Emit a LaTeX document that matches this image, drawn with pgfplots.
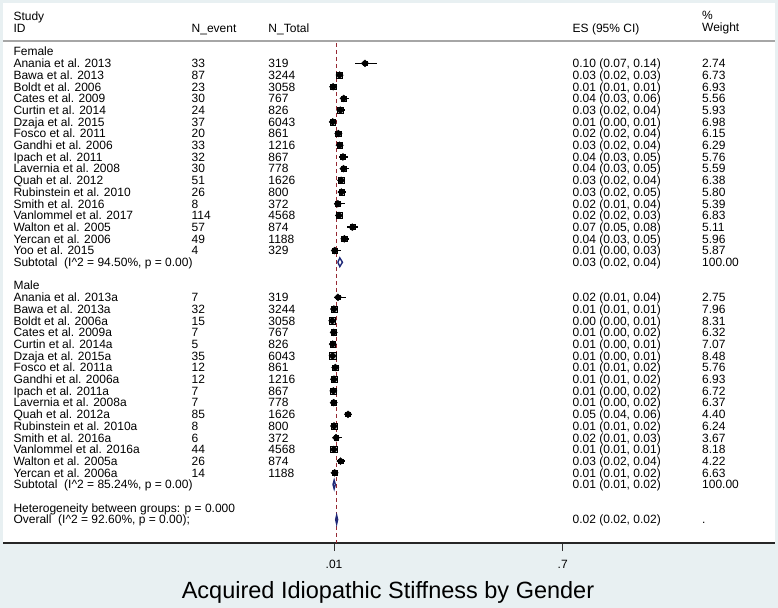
\documentclass[border=0pt]{standalone}
\usepackage{pgfplots}
\pgfplotsset{compat=1.18}
\usepackage{pgfplotstable}
\usepackage{fontspec}
\setmainfont{Liberation Sans}
\definecolor{bgc}{RGB}{232,240,242}
\definecolor{refred}{RGB}{150,40,50}
\definecolor{navyd}{RGB}{30,40,120}
\definecolor{boxgray}{RGB}{195,195,195}
\newcommand{\fsz}{\fontsize{12bp}{14bp}\selectfont}

% y = -(row index); es = proportion; lo/hi = 95% CI; w = % weight
\pgfplotstableread{
y es lo hi w
-1 0.1034 0.0720 0.1410 2.74
-2 0.0268 0.0213 0.0324 6.73
-3 0.0075 0.0050 0.0110 6.93
-4 0.0391 0.0270 0.0555 5.56
-5 0.0291 0.0187 0.0430 5.93
-6 0.0061 0.0043 0.0083 6.98
-7 0.0232 0.0148 0.0356 6.15
-8 0.0271 0.0188 0.0380 6.29
-9 0.0369 0.0262 0.0517 5.76
-10 0.0386 0.0271 0.0546 5.59
-11 0.0314 0.0239 0.0411 6.38
-12 0.0325 0.0222 0.0473 5.80
-13 0.0215 0.0109 0.0420 5.39
-14 0.0250 0.0208 0.0299 6.83
-15 0.0652 0.0507 0.0835 5.11
-16 0.0412 0.0313 0.0541 5.96
-17 0.0122 0.0047 0.0309 5.87
}\female
\pgfplotstableread{
y es lo hi w
-21 0.0219 0.0106 0.0447 2.75
-22 0.0099 0.0070 0.0139 7.96
-23 0.0049 0.0027 0.0081 8.31
-24 0.0091 0.0044 0.0187 6.32
-25 0.0061 0.0026 0.0141 7.07
-26 0.0058 0.0042 0.0080 8.48
-27 0.0139 0.0080 0.0242 5.76
-28 0.0099 0.0057 0.0172 6.93
-29 0.0081 0.0039 0.0165 6.72
-30 0.0090 0.0044 0.0184 6.37
-31 0.0523 0.0424 0.0643 4.40
-32 0.0100 0.0051 0.0196 6.24
-33 0.0161 0.0074 0.0348 3.67
-34 0.0096 0.0072 0.0129 8.18
-35 0.0297 0.0203 0.0433 4.22
-36 0.0118 0.0070 0.0197 6.63
}\male

\tikzset{lbl/.style={anchor=base west, inner sep=0pt, yshift=-4.3bp, font=\fsz}}
\newcommand{\srow}[6]{%
 \node[lbl] at (axis cs:-0.9577,#1) {#2};
 \node[lbl] at (axis cs:-0.4200,#1) {#3};
 \node[lbl] at (axis cs:-0.1883,#1) {#4};
 \node[lbl] at (axis cs:0.7297,#1) {#5};
 \node[lbl] at (axis cs:1.1204,#1) {#6};}
\newcommand{\trow}[4]{%
 \node[lbl] at (axis cs:-0.9577,#1) {#2};
 \node[lbl] at (axis cs:0.7297,#1) {#3};
 \node[lbl] at (axis cs:1.1204,#1) {#4};}

\begin{document}
\begin{tikzpicture}
\fill[bgc] (0,0) rectangle (778bp,608bp);
\begin{axis}[
  at={(3bp,65bp)}, anchor=south west,
  scale only axis, width=772bp, height=540bp,
  xmin=-0.9888, xmax=1.3407, ymin=-42.0, ymax=4.16,
  axis x line*=bottom, axis y line=none,
  axis background/.style={fill=white},
  x axis line style={black!85, line width=1.2bp},
  xtick={0.01,0.7}, xticklabels={.01,.7},
  tick align=outside, major tick length=8bp,
  xtick style={black!80, line width=0.9bp},
  xticklabel style={font=\fsz, yshift=-6bp},
  clip=false,
]
% header rule
\draw[black!35, line width=1.1bp] (axis cs:-0.9888,0.91) -- (axis cs:1.3407,0.91);
% reference line (overall estimate)
\addplot[refred, line width=1bp, dash pattern=on 4bp off 3bp] coordinates {(0.018,0.75) (0.018,-42.0)};
% weight boxes
\addplot[only marks, mark=square*, scatter, scatter/use mapped color={draw=none, fill=boxgray},
  visualization depends on={1.12*sqrt(\thisrow{w}) \as \msz},
  scatter/@pre marker code/.append style={/tikz/mark size=\msz}] table[x=es, y=y] {\female};
\addplot[only marks, mark=square*, scatter, scatter/use mapped color={draw=none, fill=boxgray},
  visualization depends on={1.12*sqrt(\thisrow{w}) \as \msz},
  scatter/@pre marker code/.append style={/tikz/mark size=\msz}] table[x=es, y=y] {\male};
% CIs and point estimates
\addplot[black, only marks, mark=diamond*, mark size=3.5bp, mark options={xscale=1.4},
  error bars/.cd, x dir=both, x explicit, error mark=none,
  error bar style={black, solid, line width=1.4bp}]
  table[x=es, y=y, x error minus expr=\thisrow{es}-\thisrow{lo}, x error plus expr=\thisrow{hi}-\thisrow{es}] {\female};
\addplot[black, only marks, mark=diamond*, mark size=3.5bp, mark options={xscale=1.4},
  error bars/.cd, x dir=both, x explicit, error mark=none,
  error bar style={black, solid, line width=1.4bp}]
  table[x=es, y=y, x error minus expr=\thisrow{es}-\thisrow{lo}, x error plus expr=\thisrow{hi}-\thisrow{es}] {\male};
% pooled diamonds
\addplot[navyd, line width=1.4bp] coordinates {(0.0215,-18) (0.0275,-17.63) (0.0355,-18) (0.0275,-18.37) (0.0215,-18)};
\addplot[navyd, line width=1.4bp] coordinates {(0.0070,-37) (0.0105,-36.63) (0.0140,-37) (0.0105,-37.37) (0.0070,-37)};
\addplot[navyd, line width=1.4bp] coordinates {(0.0150,-40) (0.0180,-39.63) (0.0210,-40) (0.0180,-40.37) (0.0150,-40)};

% header
\node[lbl] at (axis cs:-0.9577,3.05) {Study};
\node[lbl] at (axis cs:-0.9577,2.03) {ID};
\node[lbl] at (axis cs:-0.4200,2.03) {N\_event};
\node[lbl] at (axis cs:-0.1883,2.03) {N\_Total};
\node[lbl] at (axis cs:0.7297,2.03) {ES (95\% CI)};
\node[lbl] at (axis cs:1.1204,3.10) {\%};
\node[lbl] at (axis cs:1.1204,2.08) {Weight};

\node[lbl] at (axis cs:-0.9577,0) {Female};
\srow{-1}{Anania et al. 2013}{33}{319}{0.10 (0.07, 0.14)}{2.74}
\srow{-2}{Bawa et al. 2013}{87}{3244}{0.03 (0.02, 0.03)}{6.73}
\srow{-3}{Boldt et al. 2006}{23}{3058}{0.01 (0.01, 0.01)}{6.93}
\srow{-4}{Cates et al. 2009}{30}{767}{0.04 (0.03, 0.06)}{5.56}
\srow{-5}{Curtin et al. 2014}{24}{826}{0.03 (0.02, 0.04)}{5.93}
\srow{-6}{Dzaja et al. 2015}{37}{6043}{0.01 (0.00, 0.01)}{6.98}
\srow{-7}{Fosco et al. 2011}{20}{861}{0.02 (0.02, 0.04)}{6.15}
\srow{-8}{Gandhi et al. 2006}{33}{1216}{0.03 (0.02, 0.04)}{6.29}
\srow{-9}{Ipach et al. 2011}{32}{867}{0.04 (0.03, 0.05)}{5.76}
\srow{-10}{Lavernia et al. 2008}{30}{778}{0.04 (0.03, 0.05)}{5.59}
\srow{-11}{Quah et al. 2012}{51}{1626}{0.03 (0.02, 0.04)}{6.38}
\srow{-12}{Rubinstein et al. 2010}{26}{800}{0.03 (0.02, 0.05)}{5.80}
\srow{-13}{Smith et al. 2016}{8}{372}{0.02 (0.01, 0.04)}{5.39}
\srow{-14}{Vanlommel et al. 2017}{114}{4568}{0.02 (0.02, 0.03)}{6.83}
\srow{-15}{Walton et al. 2005}{57}{874}{0.07 (0.05, 0.08)}{5.11}
\srow{-16}{Yercan et al. 2006}{49}{1188}{0.04 (0.03, 0.05)}{5.96}
\srow{-17}{Yoo et al. 2015}{4}{329}{0.01 (0.00, 0.03)}{5.87}
\trow{-18}{Subtotal\ \ (I\textasciicircum 2 = 94.50\%, p = 0.00)}{0.03 (0.02, 0.04)}{100.00}

\node[lbl] at (axis cs:-0.9577,-20) {Male};
\srow{-21}{Anania et al. 2013a}{7}{319}{0.02 (0.01, 0.04)}{2.75}
\srow{-22}{Bawa et al. 2013a}{32}{3244}{0.01 (0.01, 0.01)}{7.96}
\srow{-23}{Boldt et al. 2006a}{15}{3058}{0.00 (0.00, 0.01)}{8.31}
\srow{-24}{Cates et al. 2009a}{7}{767}{0.01 (0.00, 0.02)}{6.32}
\srow{-25}{Curtin et al. 2014a}{5}{826}{0.01 (0.00, 0.01)}{7.07}
\srow{-26}{Dzaja et al. 2015a}{35}{6043}{0.01 (0.00, 0.01)}{8.48}
\srow{-27}{Fosco et al. 2011a}{12}{861}{0.01 (0.01, 0.02)}{5.76}
\srow{-28}{Gandhi et al. 2006a}{12}{1216}{0.01 (0.01, 0.02)}{6.93}
\srow{-29}{Ipach et al. 2011a}{7}{867}{0.01 (0.00, 0.02)}{6.72}
\srow{-30}{Lavernia et al. 2008a}{7}{778}{0.01 (0.00, 0.02)}{6.37}
\srow{-31}{Quah et al. 2012a}{85}{1626}{0.05 (0.04, 0.06)}{4.40}
\srow{-32}{Rubinstein et al. 2010a}{8}{800}{0.01 (0.01, 0.02)}{6.24}
\srow{-33}{Smith et al. 2016a}{6}{372}{0.02 (0.01, 0.03)}{3.67}
\srow{-34}{Vanlommel et al. 2016a}{44}{4568}{0.01 (0.01, 0.01)}{8.18}
\srow{-35}{Walton et al. 2005a}{26}{874}{0.03 (0.02, 0.04)}{4.22}
\srow{-36}{Yercan et al. 2006a}{14}{1188}{0.01 (0.01, 0.02)}{6.63}
\trow{-37}{Subtotal\ \ (I\textasciicircum 2 = 85.24\%, p = 0.00)}{0.01 (0.01, 0.02)}{100.00}

\node[lbl] at (axis cs:-0.9577,-39) {Heterogeneity between groups: p = 0.000};
\trow{-40}{Overall\ \ (I\textasciicircum 2 = 92.60\%, p = 0.00);}{0.02 (0.02, 0.02)}{.}
\end{axis}
\node[anchor=base, inner sep=0pt, font=\fontsize{23.5bp}{26bp}\selectfont] at (388bp,10bp) {Acquired Idiopathic Stiffness by Gender};
\end{tikzpicture}
\end{document}
